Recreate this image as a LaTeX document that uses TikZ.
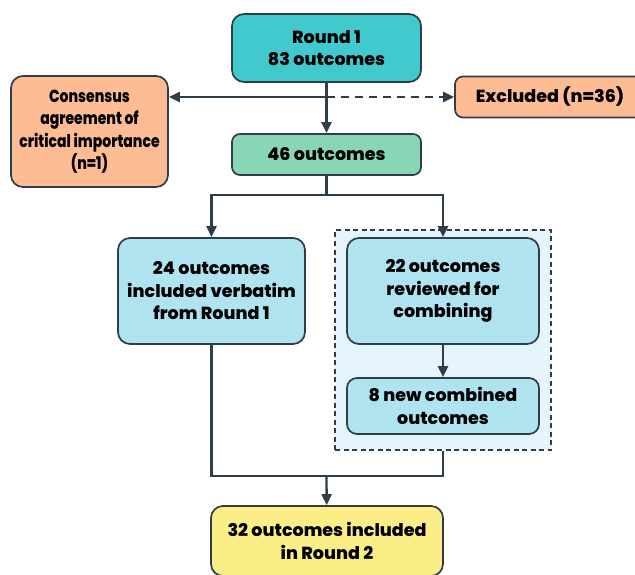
\documentclass[tikz,border=0pt]{standalone}
\usepackage{fontspec}
\setmainfont{Poppins}[BoldFont={Poppins ExtraBold}]
\newfontfamily\narrowfont{Poppins}[BoldFont={Poppins ExtraBold}, FakeStretch=0.8]
\usetikzlibrary{arrows.meta,fit}
\definecolor{edge}{HTML}{2E3D48}
\definecolor{teal1}{HTML}{42C9CD}
\definecolor{peach}{HTML}{FDBC94}
\definecolor{mint}{HTML}{88D6B6}
\definecolor{sky}{HTML}{AEE3EF}
\definecolor{pale}{HTML}{E5F4FA}
\definecolor{lemon}{HTML}{FBEE86}
\tikzset{
  box/.style={draw=edge, line width=1.7pt, rounded corners=12pt, align=center,
    font=\fontsize{17.5}{22.5}\selectfont\bfseries, inner sep=0pt},
  group/.style={draw=edge, fill=pale, line width=1.4pt, dash pattern=on 5pt off 3.5pt},
  link/.style={draw=edge, line width=2.3pt},
  arrow/.style={link, -{Triangle[length=11pt,width=10pt]}}
}
\begin{document}
\begin{tikzpicture}[x=1pt, y=-1pt]
  \useasboundingbox (0,0) rectangle (635,575);
  \node[box, fill=teal1, minimum width=189pt, minimum height=68pt] (r1) at (326.5,48) {Round 1\\83 outcomes};
  \node[box, fill=peach, minimum width=157pt, minimum height=111pt,
    font=\narrowfont\fontsize{17.5}{22.5}\selectfont\bfseries] (cons) at (89.5,131.5) {Consensus\\agreement of\\critical importance\\(n=1)};
  \node[box, fill=peach, rounded corners=8pt, minimum width=190pt, minimum height=41pt] (excl) at (550,97) {Excluded (n=36)};
  \node[box, fill=mint, rounded corners=8pt, minimum width=189pt, minimum height=41pt] (n46) at (326.5,154.5) {46 outcomes};
  \node[group, fit={(335,230) (551,450)}, inner sep=0pt] (grp) {};
  \node[box, fill=sky, minimum width=187pt, minimum height=106pt] (v24) at (211.5,291) {24 outcomes\\included verbatim\\from Round 1};
  \node[box, fill=sky, minimum width=192pt, minimum height=106pt] (c22) at (443,291) {22 outcomes\\reviewed for\\combining};
  \node[box, fill=sky, rounded corners=10pt, minimum width=192pt, minimum height=56pt] (c8) at (443,406) {8 new combined\\outcomes};
  \node[box, fill=lemon, minimum width=232pt, minimum height=70pt] (r2) at (327,541) {32 outcomes included\\in Round 2};
  \coordinate (split) at (326.5,97);
  \coordinate (fork) at (326.5,195);
  \coordinate (join) at (326.5,476);
  % Draw the flow
  \draw[arrow] (r1) -- (n46);
  \draw[arrow] (split) -- (split -| cons.east);
  \draw[arrow, dash pattern=on 8pt off 6pt] (split) -- (split -| excl.west);
  \draw[link] (n46) -- (fork);
  \draw[arrow] (fork) -| (v24);
  \draw[arrow] (fork) -| (c22);
  \draw[arrow] (c22) -- (c8);
  \draw[link] (v24) |- (join) -| (grp);
  \draw[arrow] (join) -- (r2);
\end{tikzpicture}
\end{document}
